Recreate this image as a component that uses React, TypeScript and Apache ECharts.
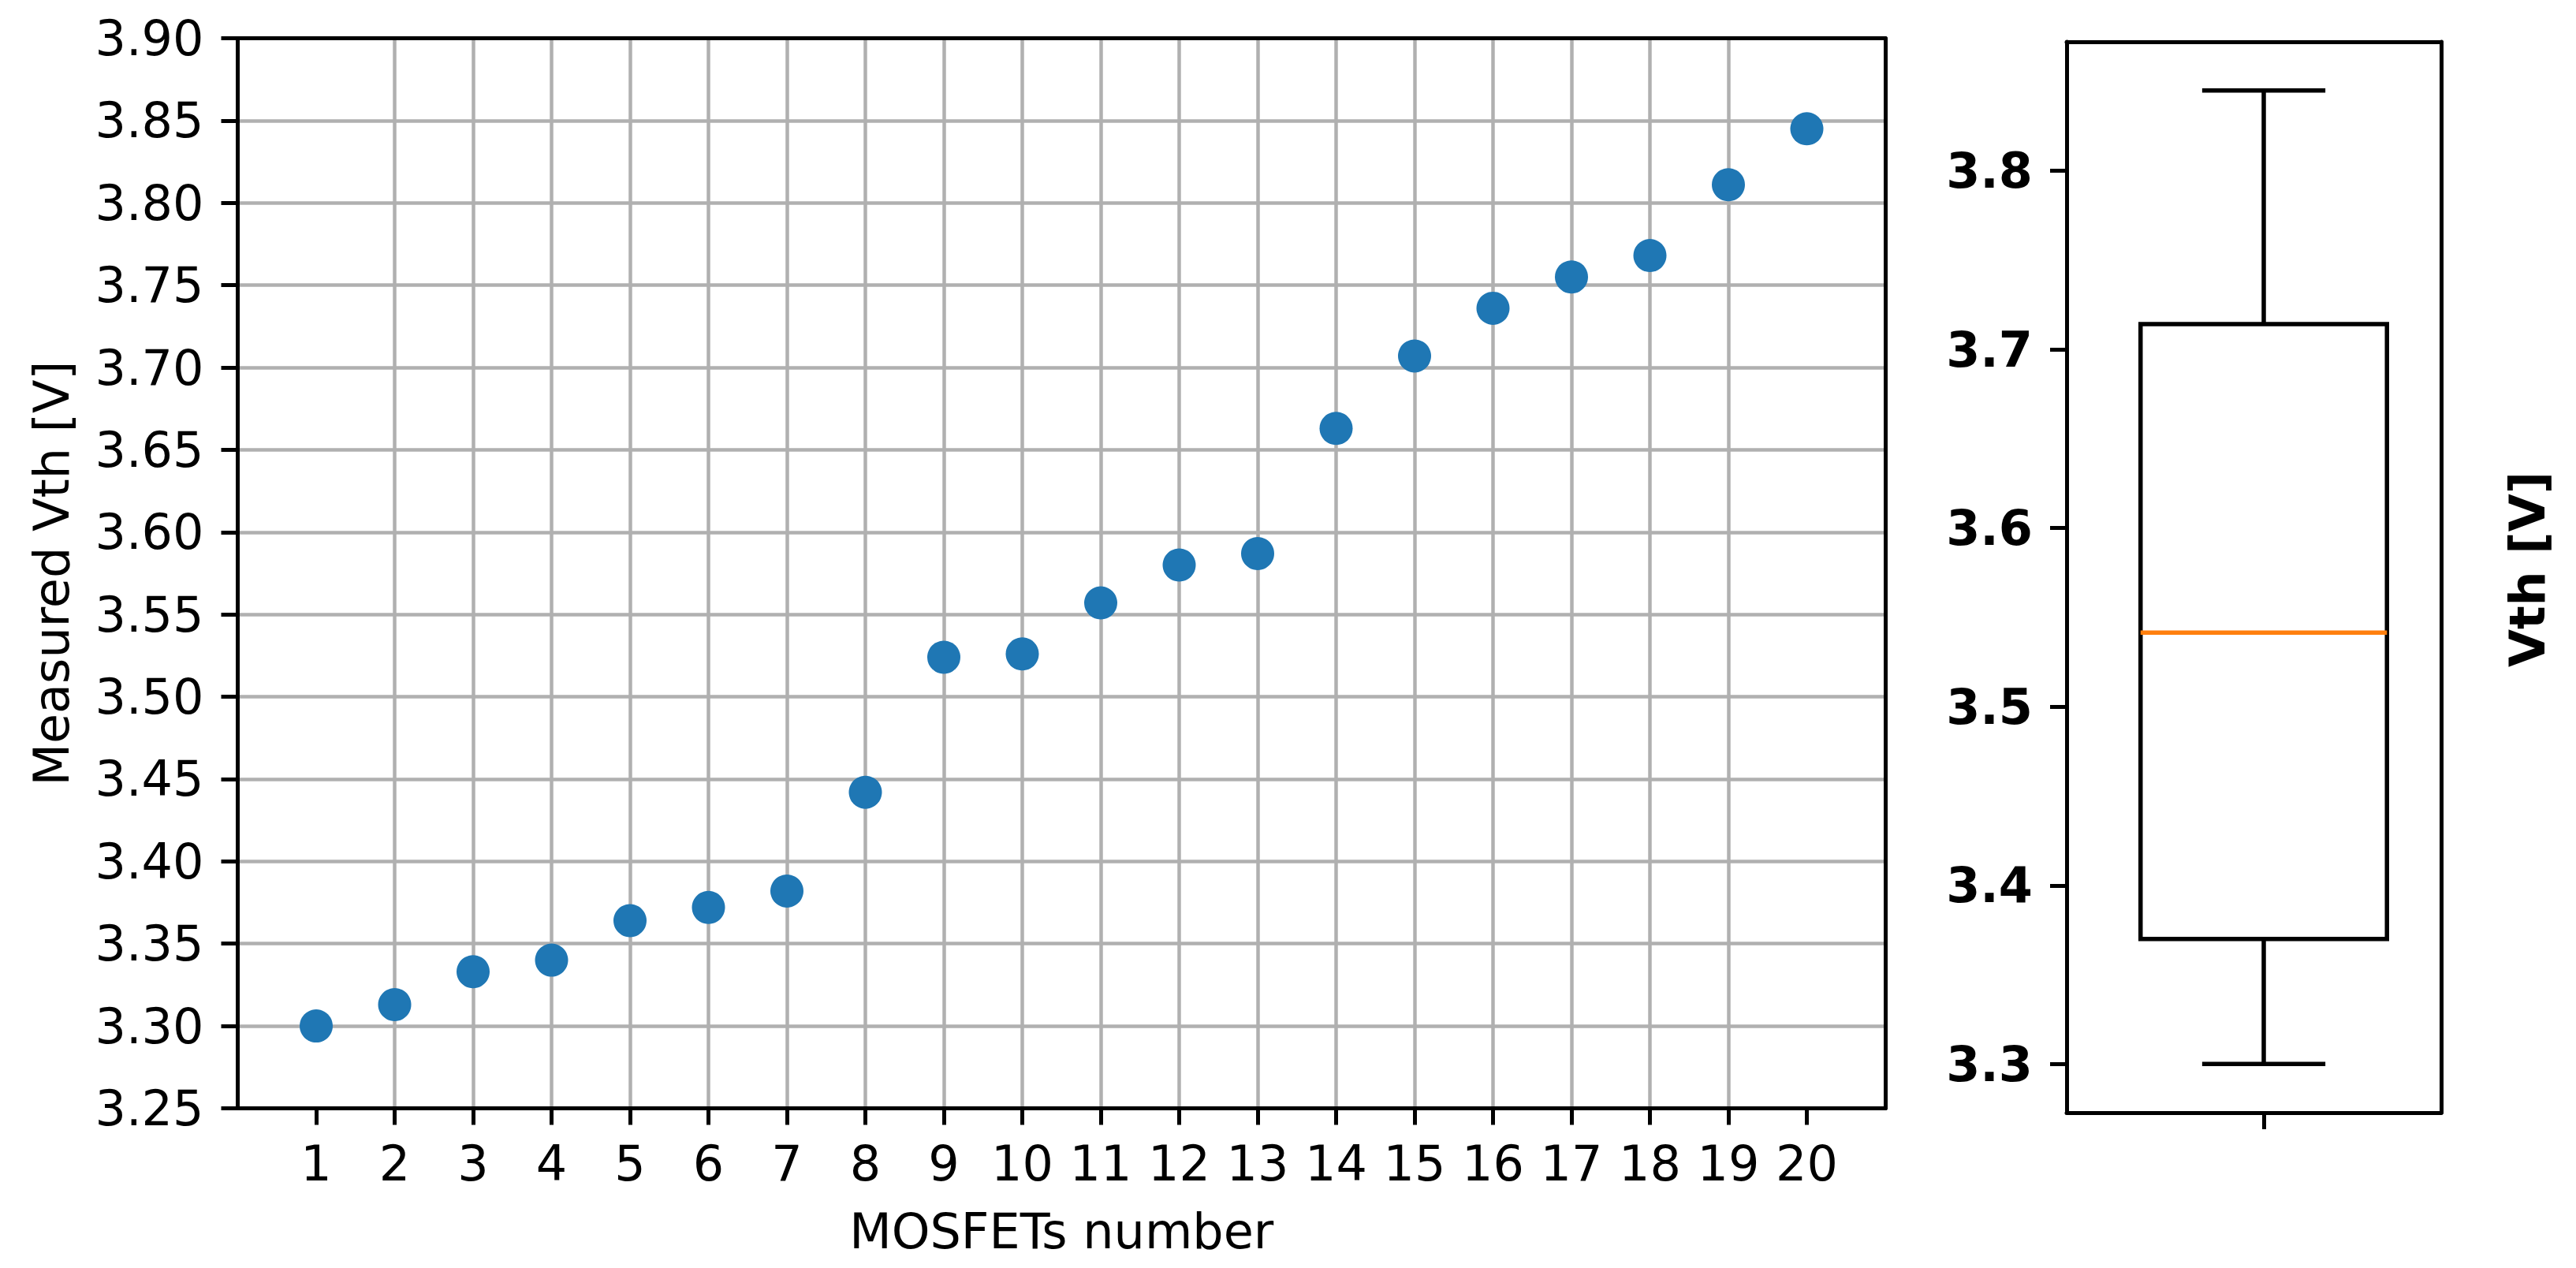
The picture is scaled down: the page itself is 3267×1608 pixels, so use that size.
import React, { useEffect, useRef } from "react";
import * as echarts from "echarts";

// ---- data ----
const MOSFET_NUMBERS = [1, 2, 3, 4, 5, 6, 7, 8, 9, 10, 11, 12, 13, 14, 15, 16, 17, 18, 19, 20];
const VTH_MEASURED = [
  3.300, 3.313, 3.333, 3.340, 3.364, 3.372, 3.382, 3.442, 3.524, 3.526,
  3.557, 3.580, 3.587, 3.663, 3.707, 3.736, 3.755, 3.768, 3.811, 3.845,
];
const X_TICK_VALUES = [1, 2, 3, 4, 5, 6, 7, 8, 9, 10, 11, 12, 13, 14, 15, 16, 17, 18, 19, 20];
const X_AXIS_RANGE = [0, 21];
const Y_AXIS_RANGE = [3.25, 3.9];
const Y_TICK_STEP = 0.05;
const BOX_Y_TICKS = [3.3, 3.4, 3.5, 3.6, 3.7, 3.8];
const BOX_POSITION = 1;
const BOX_X_RANGE = [0.6, 1.36];

// ---- styling constants ----
const FONT = "DejaVu Sans";
const BLACK = "#000000";
const GRID_COLOR = "#b0b0b0";
const POINT_COLOR = "#1f77b4";
const MEDIAN_COLOR = "#ff7f0e";
const SPINE_W = 5;
const TICK_LEN = 21;
const FS = 62;
const BOX_HALF = 0.25;
const CAP_HALF = 0.125;
const BOX_LINE_W = 5.5;

function quantile(sorted: number[], p: number): number {
  const idx = p * (sorted.length - 1);
  const lo = Math.floor(idx);
  const hi = Math.ceil(idx);
  return sorted[lo] + (sorted[hi] - sorted[lo]) * (idx - lo);
}

function boxStats(values: number[]) {
  const s = [...values].sort((a, b) => a - b);
  const q1 = quantile(s, 0.25);
  const med = quantile(s, 0.5);
  const q3 = quantile(s, 0.75);
  const iqr = q3 - q1;
  const lo = s.find((v) => v >= q1 - 1.5 * iqr) as number;
  const hi = [...s].reverse().find((v) => v <= q3 + 1.5 * iqr) as number;
  return [lo, q1, med, q3, hi];
}

function spineAxis(gridIndex: number, position: string, range: number[]) {
  return {
    gridIndex,
    type: "value",
    position,
    min: range[0],
    max: range[1],
    silent: true,
    z: 5,
    axisLine: { show: true, onZero: false, lineStyle: { color: BLACK, width: SPINE_W } },
    axisTick: { show: false },
    axisLabel: { show: false },
    splitLine: { show: false },
  };
}

export default function App() {
  const ref = useRef<HTMLDivElement>(null);

  useEffect(() => {
    if (!ref.current) return;
    const chart = echarts.init(ref.current, null, { renderer: "svg", width: 3267, height: 1608 });

    const stats = boxStats(VTH_MEASURED);
    const dataRange = stats[4] - stats[0];
    const boxYRange = [stats[0] - 0.05 * dataRange, stats[4] + 0.05 * dataRange];

    const option: any = {
      animation: false,
      backgroundColor: "#ffffff",
      textStyle: { fontFamily: FONT },
      grid: [
        { left: 301.5, top: 48.5, width: 2089.5, height: 1357, containLabel: false, outerBoundsMode: "none" },
        { left: 2621, top: 53, width: 475, height: 1358, containLabel: false, outerBoundsMode: "none" },
      ],
      xAxis: [
        {
          gridIndex: 0,
          type: "value",
          position: "bottom",
          min: X_AXIS_RANGE[0],
          max: X_AXIS_RANGE[1],
          interval: 1,
          silent: true,
          z: 4,
          axisLine: { show: true, onZero: false, lineStyle: { color: BLACK, width: SPINE_W } },
          axisTick: {
            show: true,
            length: TICK_LEN,
            customValues: X_TICK_VALUES,
            lineStyle: { color: BLACK, width: SPINE_W },
          },
          axisLabel: {
            show: true,
            customValues: X_TICK_VALUES,
            fontSize: FS,
            fontFamily: FONT,
            color: BLACK,
            margin: 39,
            formatter: (v: number) => (v >= 1 && v <= 20 ? String(v) : ""),
          },
          splitLine: {
            show: true,
            showMinLine: false,
            showMaxLine: false,
            lineStyle: { color: GRID_COLOR, width: 4.5 },
          },
          name: "MOSFETs number",
          nameLocation: "middle",
          nameGap: 125,
          nameMoveOverlap: false,
          nameTextStyle: { fontSize: FS, fontFamily: FONT, color: BLACK },
        },
        spineAxis(0, "top", X_AXIS_RANGE),
        {
          gridIndex: 1,
          type: "value",
          position: "bottom",
          min: BOX_X_RANGE[0],
          max: BOX_X_RANGE[1],
          silent: true,
          z: 5,
          axisLine: { show: true, onZero: false, lineStyle: { color: BLACK, width: SPINE_W } },
          axisTick: {
            show: true,
            length: TICK_LEN,
            customValues: [BOX_POSITION],
            lineStyle: { color: BLACK, width: SPINE_W },
          },
          axisLabel: { show: false },
          splitLine: { show: false },
        },
        spineAxis(1, "top", BOX_X_RANGE),
      ],
      yAxis: [
        {
          gridIndex: 0,
          type: "value",
          position: "left",
          min: Y_AXIS_RANGE[0],
          max: Y_AXIS_RANGE[1],
          interval: Y_TICK_STEP,
          silent: true,
          z: 4,
          axisLine: { show: true, onZero: false, lineStyle: { color: BLACK, width: SPINE_W } },
          axisTick: { show: true, length: TICK_LEN, lineStyle: { color: BLACK, width: SPINE_W } },
          axisLabel: {
            show: true,
            fontSize: FS,
            fontFamily: FONT,
            color: BLACK,
            margin: 43,
            formatter: (v: number) => v.toFixed(2),
          },
          splitLine: {
            show: true,
            showMinLine: false,
            showMaxLine: false,
            lineStyle: { color: GRID_COLOR, width: 4.5 },
          },
          name: "Measured Vth [V]",
          nameLocation: "middle",
          nameRotate: 90,
          nameGap: 205,
          nameMoveOverlap: false,
          nameTextStyle: { fontSize: FS, fontFamily: FONT, color: BLACK },
        },
        spineAxis(0, "right", Y_AXIS_RANGE),
        {
          gridIndex: 1,
          type: "value",
          position: "left",
          min: boxYRange[0],
          max: boxYRange[1],
          silent: true,
          z: 5,
          axisLine: { show: true, onZero: false, lineStyle: { color: BLACK, width: SPINE_W } },
          axisTick: {
            show: true,
            length: TICK_LEN,
            customValues: BOX_Y_TICKS,
            lineStyle: { color: BLACK, width: SPINE_W },
          },
          axisLabel: {
            show: true,
            customValues: BOX_Y_TICKS,
            fontSize: FS,
            fontFamily: FONT,
            fontWeight: "bold",
            color: BLACK,
            margin: 43,
            formatter: (v: number) => v.toFixed(1),
          },
          splitLine: { show: false },
        },
        {
          ...spineAxis(1, "right", boxYRange),
          name: "Vth [V]",
          nameLocation: "middle",
          nameRotate: 90,
          nameGap: 78,
          nameMoveOverlap: false,
          nameTextStyle: {
            fontSize: FS,
            fontFamily: FONT,
            fontWeight: "bold",
            color: BLACK,
            padding: [0, 0, 0, 20],
          },
        },
      ],
      series: [
        {
          type: "scatter",
          xAxisIndex: 0,
          yAxisIndex: 0,
          symbol: "circle",
          symbolSize: 42,
          z: 6,
          itemStyle: { color: POINT_COLOR, opacity: 1 },
          data: MOSFET_NUMBERS.map((n, i) => [n, VTH_MEASURED[i]]),
        },
        {
          type: "custom",
          xAxisIndex: 2,
          yAxisIndex: 2,
          clip: false,
          z: 6,
          encode: { x: 0, y: [1, 2, 3, 4, 5] },
          data: [[BOX_POSITION, ...stats]],
          renderItem: (_params: any, api: any) => {
            const x = api.value(0);
            const lo = api.value(1);
            const q1 = api.value(2);
            const med = api.value(3);
            const q3 = api.value(4);
            const hi = api.value(5);
            const c = (xx: number, yy: number) => api.coord([xx, yy]);
            const bl = c(x - BOX_HALF, q1);
            const tr = c(x + BOX_HALF, q3);
            const line = (a: number[], b: number[], color: string) => ({
              type: "line",
              shape: { x1: a[0], y1: a[1], x2: b[0], y2: b[1] },
              style: { stroke: color, lineWidth: BOX_LINE_W },
            });
            return {
              type: "group",
              children: [
                line(c(x, lo), c(x, q1), BLACK),
                line(c(x, q3), c(x, hi), BLACK),
                line(c(x - CAP_HALF, lo), c(x + CAP_HALF, lo), BLACK),
                line(c(x - CAP_HALF, hi), c(x + CAP_HALF, hi), BLACK),
                {
                  type: "rect",
                  shape: { x: bl[0], y: tr[1], width: tr[0] - bl[0], height: bl[1] - tr[1] },
                  style: { fill: "none", stroke: BLACK, lineWidth: BOX_LINE_W },
                },
                line(c(x - BOX_HALF, med), c(x + BOX_HALF, med), MEDIAN_COLOR),
              ],
            };
          },
        },
      ],
    };

    chart.setOption(option);
    return () => chart.dispose();
  }, []);

  return (
    <div
      ref={ref}
      style={{ position: "fixed", left: 0, top: 0, width: 3267, height: 1608, background: "#ffffff" }}
    />
  );
}
